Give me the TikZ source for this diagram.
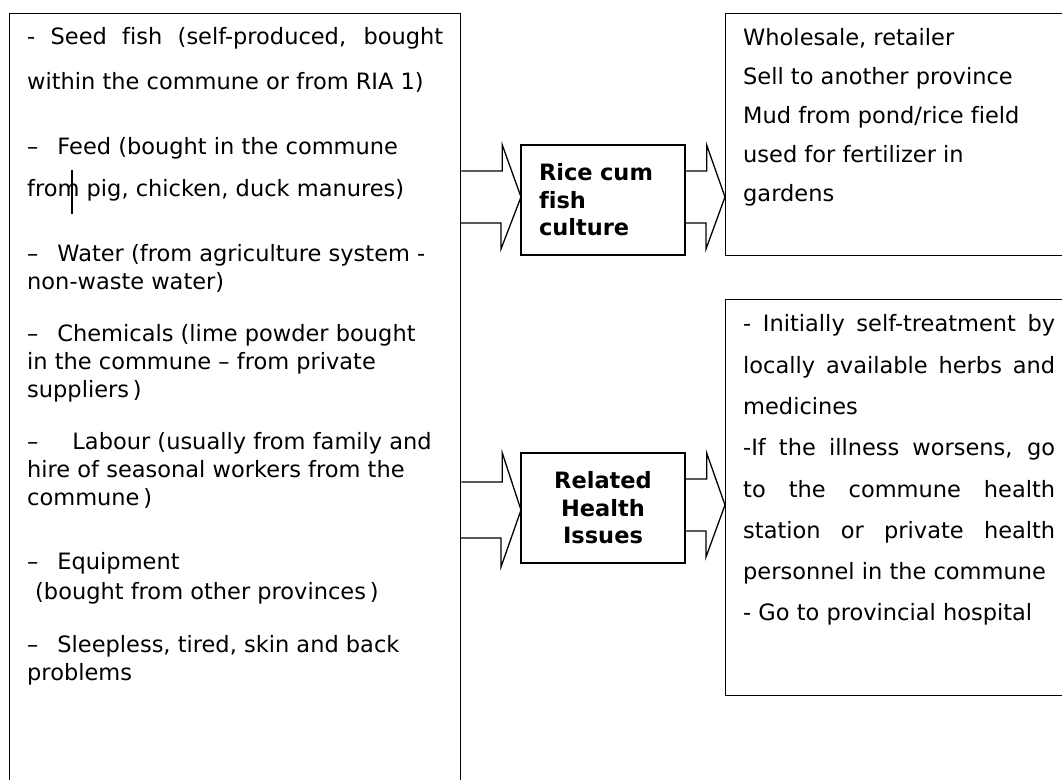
\documentclass[tikz,border=0pt]{standalone}
\usepackage{fontspec}
\setmainfont[Ligatures=CommonOff]{DejaVu Sans}
\usepackage{tikz}
\tikzset{
  panel/.style={
    rectangle, draw=black, line width=1.3pt,
    inner sep=0pt, anchor=north west
  },
  hubbox/.style={
    rectangle, draw=black, line width=1.3pt,
    minimum width=164pt, minimum height=110pt,
    text width=128pt, inner sep=0pt,
    font=\fontsize{22.5}{27.5}\selectfont\bfseries, align=#1
  },
  hubbox/.default=left,
  blockarrow/.style={
    draw=black, line width=1.3pt, line join=miter
  },
  % placed at the baseline of the last line
  textblock/.style={
    font=\fontsize{22.5}{#1}\selectfont,
    inner sep=0pt, anchor=base west, align=left
  },
  textblock/.default=28pt,
}

\begin{document}
\begin{tikzpicture}[x=1pt,y=1pt]
\useasboundingbox (0,0) rectangle (1062,779);

% Boxes
\node[panel, minimum width=451pt, minimum height=820pt] (inputs) at (9,766) {};
\node[hubbox] (rice) at (603,579) {Rice cum\\fish\\culture};
\node[hubbox=center] (health) at (603,271) {Related\\Health\\Issues};
\node[panel, minimum width=420pt, minimum height=242pt] (market) at (725,766) {};
\node[panel, minimum width=420pt, minimum height=396pt] (care) at (725,480) {};

% Inputs
\node[textblock=45pt] (seed) at (27,689)
  {\makebox[416pt][s]{- Seed fish (self-produced, bought}\\within the commune or from RIA 1)};
\node[textblock=42pt] (feed) at (27,582)
  {–\hspace{19pt}Feed (bought in the commune\\from pig, chicken, duck manures)};
\node[textblock] (water) at (27,489)
  {–\hspace{19pt}Water (from agriculture system -\\non-waste water)};
\node[textblock] (chem) at (27,381)
  {–\hspace{19pt}Chemicals (lime powder bought\\in the commune – from private\\suppliers\,)};
\node[textblock] (labour) at (27,273)
  {–\hspace{34pt}Labour (usually from family and\\hire of seasonal workers from the\\commune\,)};
\node[textblock=30pt] (equip) at (27,179)
  {–\hspace{19pt}Equipment\\\hspace*{8pt}(bought from other provinces\,)};
\node[textblock] (sleep) at (27,99)
  {–\hspace{19pt}Sleepless, tired, skin and back\\problems};
\draw[line width=1.5pt] (72,609) -- (72,565);

% Outputs
\node[textblock=39.2pt] (sales) at (743,577)
  {Wholesale, retailer\\Sell to another province\\Mud from pond/rice field\\used for fertilizer in\\gardens};
\node[textblock=41.3pt] (treat) at (743,158)
  {\makebox[312pt][s]{- Initially self-treatment by}\\
   \makebox[312pt][s]{locally available herbs and}\\
   medicines\\
   \makebox[312pt][s]{-If the illness worsens, go}\\
   \makebox[312pt][s]{to the commune health}\\
   \makebox[312pt][s]{station or private health}\\
   personnel in the commune\\
   - Go to provincial hospital};

% Block arrows
\coordinate (riceIn) at (521,582);
\coordinate (salesIn) at (725,582);
\coordinate (healthIn) at (521,269);
\coordinate (careIn) at (725,274);
\draw[blockarrow] (inputs.east |- 0,608) -- ++(41,0) -- ++(0,26) -- (riceIn)
  -- ++(-20,-52) -- ++(0,26) -- ++(-41,0);
\draw[blockarrow] (rice.east |- 0,608) -- ++(21,0) -- ++(0,26) -- (salesIn)
  -- ++(-19,-52) -- ++(0,26) -- ++(-21,0);
\draw[blockarrow] (inputs.east |- 0,297) -- ++(41,0) -- ++(0,29) -- (healthIn)
  -- ++(-20,-57) -- ++(0,29) -- ++(-41,0);
\draw[blockarrow] (health.east |- 0,300) -- ++(21,0) -- ++(0,26) -- (careIn)
  -- ++(-19,-52) -- ++(0,26) -- ++(-21,0);

\end{tikzpicture}
\end{document}
